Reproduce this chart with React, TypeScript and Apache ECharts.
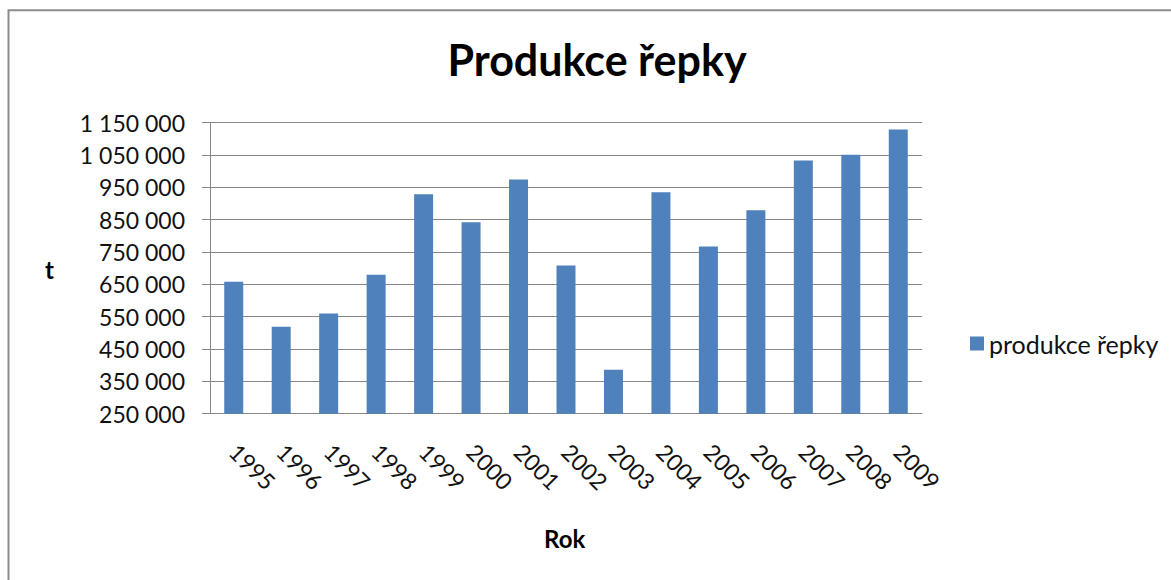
import React, { useEffect, useRef } from "react";
import * as echarts from "echarts";

// Rapeseed production in the Czech Republic (tonnes), 1995–2009
const years = [
  "1995", "1996", "1997", "1998", "1999", "2000", "2001", "2002",
  "2003", "2004", "2005", "2006", "2007", "2008", "2009",
];
const production = [
  658000, 519000, 560000, 680000, 929000, 842000, 974000, 708000,
  386000, 935000, 767000, 879000, 1033000, 1051000, 1129000,
];
const yMin = 250000;
const yMax = 1150000;
const yStep = 100000;

const seriesName = "produkce řepky";
const chartTitle = "Produkce řepky";
const xName = "Rok";
const yName = "t";

const FONT = "Lato, 'Open Sans', sans-serif";
const GRID_GRAY = "#868686";

// 1150000 -> "1 150 000"
const groupThousands = (v: number) =>
  String(Math.round(v)).replace(/\B(?=(\d{3})+(?!\d))/g, " ");

export default function App() {
  const ref = useRef<HTMLDivElement>(null);

  useEffect(() => {
    if (!ref.current) return;
    const chart = echarts.init(ref.current, undefined, { renderer: "svg" });
    chart.setOption({
      animation: false,
      backgroundColor: "#ffffff",
      title: {
        text: chartTitle,
        left: 592,
        top: 33,
        textAlign: "center",
        textStyle: {
          fontFamily: FONT,
          fontSize: 43,
          fontWeight: "bold",
          color: "#000000",
        },
      },
      legend: {
        data: [seriesName],
        left: 965,
        top: 326,
        itemWidth: 14,
        itemHeight: 14,
        icon: "rect",
        textStyle: { fontFamily: FONT, fontSize: 25, color: "#111111" },
      },
      grid: { left: 210, right: 249, top: 122.7, bottom: 166.3 },
      xAxis: {
        type: "category",
        data: years,
        boundaryGap: true,
        axisLine: { show: true, lineStyle: { color: GRID_GRAY, width: 1 } },
        axisTick: { show: false },
        axisLabel: {
          rotate: -45,
          margin: 34,
          interval: 0,
          fontFamily: FONT,
          fontSize: 23,
          color: "#111111",
        },
      },
      yAxis: {
        type: "value",
        min: yMin,
        max: yMax,
        interval: yStep,
        axisLine: { show: true, lineStyle: { color: GRID_GRAY, width: 1 } },
        axisTick: {
          show: true,
          inside: false,
          length: 8,
          lineStyle: { color: GRID_GRAY },
        },
        splitLine: { show: true, lineStyle: { color: GRID_GRAY, width: 1 } },
        axisLabel: {
          margin: 25,
          fontFamily: FONT,
          fontSize: 23,
          color: "#111111",
          formatter: (v: number) => groupThousands(v),
        },
      },
      series: [
        {
          name: seriesName,
          type: "bar",
          data: production,
          barWidth: 19,
          itemStyle: { color: "#4F81BD" },
        },
      ],
      graphic: [
        {
          type: "rect",
          silent: true,
          shape: { x: 8.5, y: 10.3, width: 2000, height: 2000 },
          style: { fill: "none", stroke: "#8c8c8c", lineWidth: 2 },
        },
        {
          type: "text",
          left: 45,
          top: 257,
          style: {
            text: yName,
            fontFamily: FONT,
            fontSize: 24,
            fontWeight: "bold",
            fill: "#000000",
          },
        },
        {
          type: "text",
          left: 544,
          top: 526,
          style: {
            text: xName,
            fontFamily: FONT,
            fontSize: 24,
            fontWeight: "bold",
            fill: "#000000",
          },
        },
      ],
    });
    return () => chart.dispose();
  }, []);

  return (
    <div
      ref={ref}
      style={{ position: "fixed", left: 0, top: 0, width: 1171, height: 580 }}
    />
  );
}
